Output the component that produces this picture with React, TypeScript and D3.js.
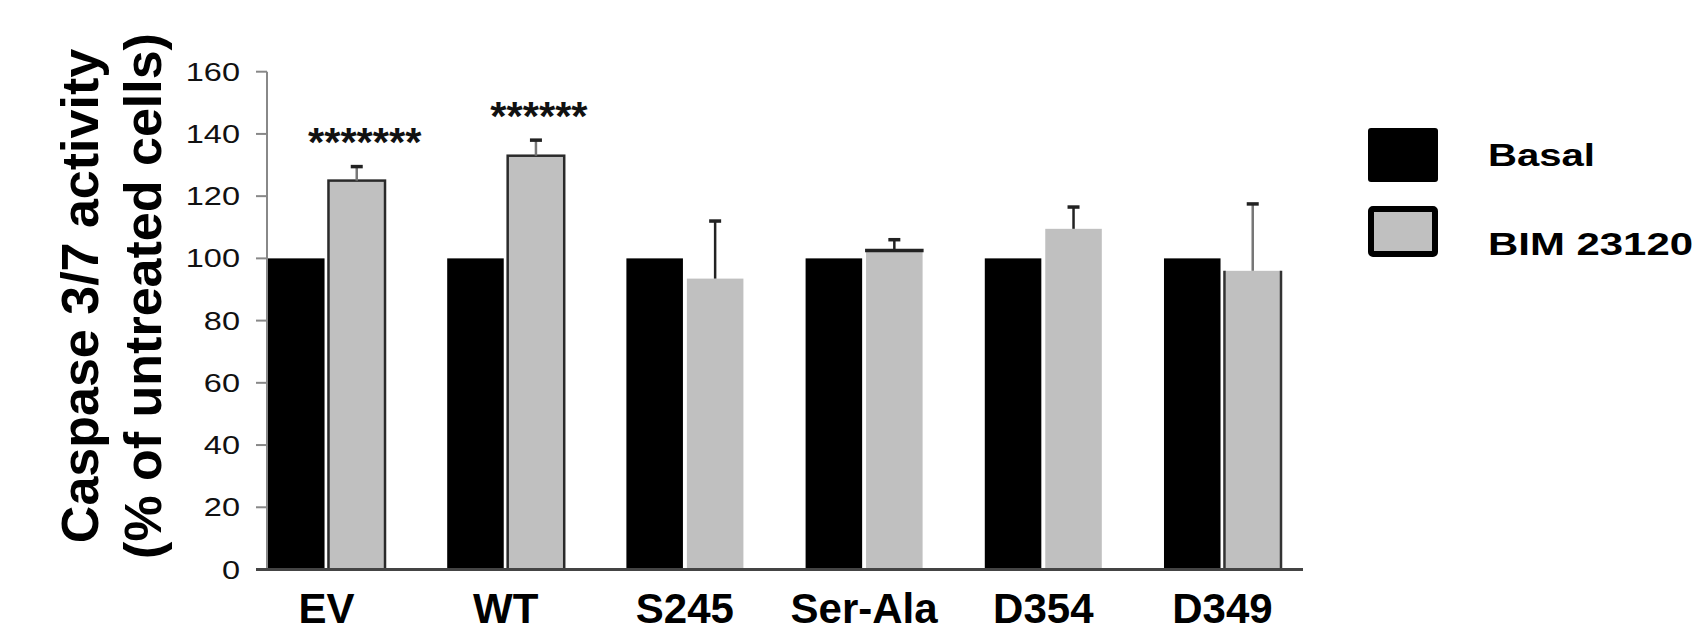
import React from "react";
import * as d3 from "d3";

// values
const categories = ["EV", "WT", "S245", "Ser-Ala", "D354", "D349"];
const seriesNames = ["Basal", "BIM 23120"];
const basal = [100, 100, 100, 100, 100, 100];
const bim = [125, 133, 93.5, 102.5, 109.5, 96];
const bimErr = [4.5, 5, 18.5, 3.5, 7, 21.5];
const stars = ["*******", "******", "", "", "", ""];
const yTicks = [0, 20, 40, 60, 80, 100, 120, 140, 160];

const W = 1696;
const H = 634;
const FONT = "'Liberation Sans', Arial, sans-serif";

// how each grey bar's outline looks in the original (style only)
const greyEdge: Record<string, string> = { EV: "full", WT: "full", "Ser-Ala": "top", D349: "sides" };

export default function App() {
  const y = d3.scaleLinear().domain([0, 160]).range([569.5, 71.7]);
  const x0 = d3.scaleBand().domain(categories).range([268, 1281]).paddingInner(0.347).paddingOuter(0);
  const x1 = d3.scaleBand().domain(seriesNames).range([0, x0.bandwidth()]).paddingInner(0.065);
  const bw = x1.bandwidth();
  const axisX = 267;

  return (
    <svg width={W} height={H} style={{ position: "absolute", left: 0, top: 0, background: "#fff" }} fontFamily={FONT}>
      {/* y axis */}
      <line x1={axisX} x2={axisX} y1={y(160)} y2={y(0)} stroke="#888" strokeWidth={2} />
      {yTicks.map((t) => (
        <g key={t}>
          <line x1={axisX - 11} x2={axisX} y1={y(t)} y2={y(t)} stroke="#888" strokeWidth={2} />
          <text transform={`translate(240,${y(t) + 9}) scale(1.3,1)`} textAnchor="end" fontSize={25} fill="#111">
            {t}
          </text>
        </g>
      ))}

      {/* bars */}
      {categories.map((c, i) => {
        const gx = x0(c) as number;
        const bx = gx + (x1("Basal") as number);
        const gxx = gx + (x1("BIM 23120") as number);
        const edge = greyEdge[c];
        const top = y(bim[i]);
        const errTop = y(bim[i] + bimErr[i]);
        const cx = gxx + bw / 2;
        return (
          <g key={c}>
            <rect x={bx} y={y(basal[i])} width={bw} height={y(0) - y(basal[i])} fill="#000" />
            <rect x={gxx} y={top} width={bw} height={y(0) - top} fill="#c0c0c0"
              stroke={edge === "full" ? "#2a2a2a" : "none"} strokeWidth={2.5} />
            {edge === "top" && <line x1={gxx - 1} x2={gxx + bw + 1} y1={top} y2={top} stroke="#222" strokeWidth={3.5} />}
            {edge === "sides" && (
              <g stroke="#333" strokeWidth={2.5}>
                <line x1={gxx} x2={gxx} y1={top} y2={y(0)} />
                <line x1={gxx + bw} x2={gxx + bw} y1={top} y2={y(0)} />
              </g>
            )}
            {/* error bar, upper half only */}
            <line x1={cx} x2={cx} y1={top} y2={errTop} stroke={edge === "full" || edge === "sides" ? "#777" : "#222"} strokeWidth={2.5} />
            <line x1={cx - 6} x2={cx + 6} y1={errTop} y2={errTop} stroke="#222" strokeWidth={3.5} />
            {stars[i] && (
              <text x={cx + (i === 0 ? 8 : 3)} y={errTop - 33 + 22.7} textAnchor="middle" fontSize={41} fontWeight="bold"
                textLength={stars[i].length * 16.2} lengthAdjust="spacingAndGlyphs" fill="#111">
                {stars[i]}
              </text>
            )}
            <text x={gx + x0.bandwidth() / 2} y={623} textAnchor="middle" fontSize={42} fontWeight="bold" fill="#000">
              {c}
            </text>
          </g>
        );
      })}

      {/* x axis */}
      <line x1={axisX - 11} x2={1303} y1={y(0)} y2={y(0)} stroke="#444" strokeWidth={3} />

      {/* y title */}
      <text transform="translate(98,296) rotate(-90)" textAnchor="middle" fontSize={52} fontWeight="bold" fill="#000">
        Caspase 3/7 activity
      </text>
      <text transform="translate(161,296) rotate(-90)" textAnchor="middle" fontSize={52} fontWeight="bold" fill="#000">
        (% of untreated cells)
      </text>

      {/* legend */}
      <rect x={1368} y={128} width={70} height={54} rx={3} fill="#000" />
      <rect x={1371} y={209} width={64} height={45} rx={2} fill="#c0c0c0" stroke="#000" strokeWidth={6} />
      <text x={1488} y={166} fontSize={31} fontWeight="bold" textLength={107} lengthAdjust="spacingAndGlyphs" fill="#000">
        {seriesNames[0]}
      </text>
      <text x={1488} y={255} fontSize={31} fontWeight="bold" textLength={205} lengthAdjust="spacingAndGlyphs" fill="#000">
        {seriesNames[1]}
      </text>
    </svg>
  );
}
